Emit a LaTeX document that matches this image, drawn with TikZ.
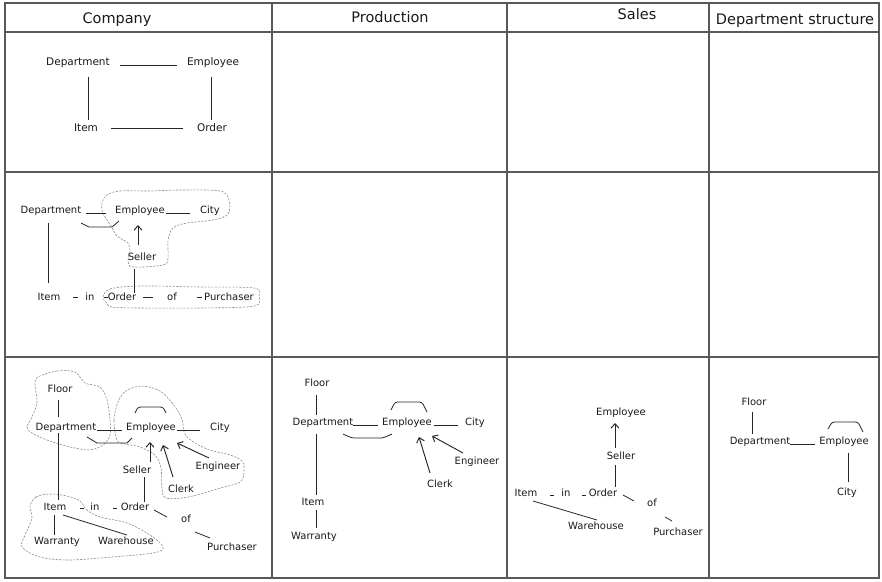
\documentclass[tikz,border=0pt]{standalone}
\usepackage{fontspec}
\setmainfont{DejaVu Sans}
\usetikzlibrary{arrows.meta}
\begin{document}
\begin{tikzpicture}[x=1pt,y=-1pt,
  grid/.style={draw=black!65,line width=1.2pt},
  hdr/.style={font=\fontsize{14.5}{16}\selectfont,inner sep=0pt,text=black!90},
  lbl/.style={font=\fontsize{10}{12}\selectfont,inner sep=0pt,text height=7pt,text depth=2pt,text=black!90},
  lblA/.style={lbl,font=\fontsize{10.5}{12}\selectfont},
  link/.style={draw=black!85,line width=0.8pt},
  isa/.style={link,line width=0.95pt,-{Straight Barb[length=4.5pt,width=8pt]}},
  rel/.style={link,rounded corners=2.5pt},
  zone/.style={draw=black!45,line width=0.6pt,dash pattern=on 2.2pt off 1.3pt}
]
\useasboundingbox (0,0) rectangle (882,581);

% table frame
\draw[grid] (5,3) rectangle (879,578);
\foreach \x in {272,507,709} \draw[grid] (\x,3) -- (\x,578);
\foreach \y in {32,172,357} \draw[grid] (5,\y) -- (879,\y);

% column headings
\node[hdr] (hC) at (117,20) {Company};
\node[hdr] (hP) at (390,17) {Production};
\node[hdr] (hS) at (637,14) {Sales};
\node[hdr] (hD) at (795,21) {Department structure};

% ---------- first row: company ----------
\node[lblA] (a1dep)  at (78,63)   {Department};
\node[lblA] (a1emp)  at (213,63)  {Employee};
\node[lblA] (a1item) at (86,129)  {Item};
\node[lblA] (a1ord)  at (212,129) {Order};
\draw[link] ([shift={(42,2)}]a1dep.center) -- ([shift={(-36,2)}]a1emp.center);
\draw[link] ([shift={(10,14)}]a1dep.center) -- ([shift={(2,-9)}]a1item.center);
\draw[link] ([shift={(-2,14)}]a1emp.center) -- ([shift={(-1,-9)}]a1ord.center);
\draw[link] ([shift={(25,-1)}]a1item.center) -- ([shift={(-29,-1)}]a1ord.center);

% ---------- second row: company ----------
\draw[zone] plot[smooth cycle,tension=0.55] coordinates {
  (107,195) (120,191) (150,191) (180,190) (220,191) (229,200) (228,214)
  (213,220) (187,223) (173,228) (168,240) (168,258) (163,265) (133,267)
  (128,261) (130,251) (128,243) (117,236) (111,226) (103,213) (102,203)};
\draw[zone] plot[smooth cycle,tension=0.55] coordinates {
  (103,297) (110,289) (140,286) (200,287) (254,288) (259,296) (254,306)
  (200,308) (140,308) (112,307) (106,302)};

\node[lbl] (b2dep)  at (51,211)  {Department};
\node[lbl] (b2emp)  at (140,211) {Employee};
\node[lbl] (b2city) at (210,211) {City};
\node[lbl] (b2sel)  at (142,258) {Seller};
\node[lbl] (b2item) at (49,298)  {Item};
\node[lbl] (b2in)   at (90,298)  {in};
\node[lbl] (b2ord)  at (122,298) {Order};
\node[lbl] (b2of)   at (172,298) {of};
\node[lbl] (b2pur)  at (229,298) {Purchaser};
\draw[link] ([shift={(35,2)}]b2dep.center) -- ([shift={(-34,2)}]b2emp.center);
\draw[link] ([shift={(26,2)}]b2emp.center) -- ([shift={(-20,2)}]b2city.center);
\draw[link] ([shift={(30,12)}]b2dep.center) -- ++(8,4) -- ++(23,0) -- ([shift={(-21,10)}]b2emp.center);
\draw[link] ([shift={(-3,12)}]b2dep.center) -- ([shift={(-1,-15)}]b2item.center);
\draw[isa] ([shift={(-4,-13)}]b2sel.center) -- ([shift={(-2,14)}]b2emp.center);
\draw[link] ([shift={(-8,11)}]b2sel.center) -- ([shift={(12,-5)}]b2ord.center);
\draw[link] ([shift={(24,-1)}]b2item.center) -- ([shift={(-12,-1)}]b2in.center);
\draw[link] ([shift={(14,-1)}]b2in.center) -- ([shift={(-14,-1)}]b2ord.center);
\draw[link] ([shift={(21,-1)}]b2ord.center) -- ([shift={(-19,-1)}]b2of.center);
\draw[link] ([shift={(25,-1)}]b2of.center) -- ([shift={(-27,-1)}]b2pur.center);

% ---------- third row: company ----------
\draw[zone] plot[smooth cycle,tension=0.55] coordinates {
  (38,377) (57,371) (75,372) (85,383) (100,387) (107,400) (110,420)
  (110,435) (103,445) (90,450) (75,448) (63,445) (47,440) (32,433)
  (27,427) (32,417) (37,402) (35,385)};
\draw[zone] plot[smooth cycle,tension=0.55] coordinates {
  (117,440) (114,420) (118,402) (126,391) (142,386) (160,391) (173,404)
  (182,419) (186,436) (207,449) (230,455) (242,461) (244,471) (240,482)
  (217,489) (188,497) (166,498) (162,488) (161,468) (155,455) (140,447)
  (125,444)};
\draw[zone] plot[smooth cycle,tension=0.55] coordinates {
  (30,506) (36,497) (50,494) (67,496) (80,501) (87,510) (100,517)
  (127,523) (150,535) (163,547) (153,553) (100,558) (67,560) (40,557)
  (22,547) (26,533) (32,518)};

\node[lbl] (c3floor) at (60,390)  {Floor};
\node[lbl] (c3dep)   at (66,428)  {Department};
\node[lbl] (c3emp)   at (151,428) {Employee};
\node[lbl] (c3city)  at (220,428) {City};
\node[lbl] (c3sel)   at (137,471) {Seller};
\node[lbl] (c3eng)   at (218,467) {Engineer};
\node[lbl] (c3clerk) at (181,490) {Clerk};
\node[lbl] (c3item)  at (55,508)  {Item};
\node[lbl] (c3in)    at (95,508)  {in};
\node[lbl] (c3ord)   at (135,508) {Order};
\node[lbl] (c3of)    at (186,520) {of};
\node[lbl] (c3pur)   at (232,548) {Purchaser};
\node[lbl] (c3war)   at (57,542)  {Warranty};
\node[lbl] (c3wh)    at (126,542) {Warehouse};
\draw[link] ([shift={(-2,10)}]c3floor.center) -- ([shift={(-8,-11)}]c3dep.center);
\draw[link] ([shift={(31,2)}]c3dep.center) -- ([shift={(-29,2)}]c3emp.center);
\draw[link] ([shift={(21,9)}]c3dep.center) -- ++(10,6) -- ++(30,0) -- ([shift={(-19,10)}]c3emp.center);
\draw[rel] ([shift={(-16,-15)}]c3emp.center) -- ++(3,-6) -- ++(25,0) -- ([shift={(15,-15)}]c3emp.center);
\draw[link] ([shift={(26,2)}]c3emp.center) -- ([shift={(-20,2)}]c3city.center);
\draw[isa] ([shift={(13,-9)}]c3sel.center) -- ([shift={(-1,14)}]c3emp.center);
\draw[isa] ([shift={(-8,-13)}]c3clerk.center) -- ([shift={(12,17)}]c3emp.center);
\draw[isa] ([shift={(-9,-9)}]c3eng.center) -- ([shift={(26,15)}]c3emp.center);
\draw[link] ([shift={(7,6)}]c3sel.center) -- ([shift={(9,-6)}]c3ord.center);
\draw[link] ([shift={(-8,5)}]c3dep.center) -- ([shift={(3,-8)}]c3item.center);
\draw[link] ([shift={(25,0)}]c3item.center) -- ([shift={(-11,0)}]c3in.center);
\draw[link] ([shift={(18,0)}]c3in.center) -- ([shift={(-18,0)}]c3ord.center);
\draw[link] ([shift={(19,2)}]c3ord.center) -- ([shift={(-19,-3)}]c3of.center);
\draw[link] ([shift={(9,12)}]c3of.center) -- ([shift={(-22,-10)}]c3pur.center);
\draw[link] ([shift={(-1,7)}]c3item.center) -- ([shift={(-3,-7)}]c3war.center);
\draw[link] ([shift={(8,7)}]c3item.center) -- ([shift={(1,-7)}]c3wh.center);

% ---------- third row: production ----------
\node[lbl] (p3floor) at (317,384) {Floor};
\node[lbl] (p3dep)   at (323,423) {Department};
\node[lbl] (p3emp)   at (407,423) {Employee};
\node[lbl] (p3city)  at (475,423) {City};
\node[lbl] (p3item)  at (313,503) {Item};
\node[lbl] (p3war)   at (314,537) {Warranty};
\node[lbl] (p3eng)   at (477,462) {Engineer};
\node[lbl] (p3clerk) at (440,485) {Clerk};
\draw[link] ([shift={(-1,11)}]p3floor.center) -- ([shift={(-7,-8)}]p3dep.center);
\draw[link] ([shift={(30,2)}]p3dep.center) -- ([shift={(-29,2)}]p3emp.center);
\draw[rel] ([shift={(-16,-13)}]p3emp.center) -- ++(4,-8) -- ++(27,0) -- ([shift={(20,-11)}]p3emp.center);
\draw[link] ([shift={(27,2)}]p3emp.center) -- ([shift={(-17,2)}]p3city.center);
\draw[rel] ([shift={(20,11)}]p3dep.center) -- ++(9,4) -- ++(31,0) -- ([shift={(-15,11)}]p3emp.center);
\draw[link] ([shift={(-7,11)}]p3dep.center) -- ([shift={(3,-8)}]p3item.center);
\draw[link] ([shift={(3,7)}]p3item.center) -- ([shift={(2,-9)}]p3war.center);
\draw[isa] ([shift={(-10,-12)}]p3clerk.center) -- ([shift={(12,14)}]p3emp.center);
\draw[isa] ([shift={(-14,-9)}]p3eng.center) -- ([shift={(25,13)}]p3emp.center);

% ---------- third row: sales ----------
\node[lbl] (s3emp)  at (621,413) {Employee};
\node[lbl] (s3sel)  at (621,457) {Seller};
\node[lbl] (s3item) at (526,494) {Item};
\node[lbl] (s3in)   at (566,494) {in};
\node[lbl] (s3ord)  at (603,494) {Order};
\node[lbl] (s3of)   at (652,504) {of};
\node[lbl] (s3pur)  at (678,533) {Purchaser};
\node[lbl] (s3wh)   at (596,527) {Warehouse};
\draw[isa] ([shift={(-6,-9)}]s3sel.center) -- ([shift={(-6,10)}]s3emp.center);
\draw[link] ([shift={(-6,8)}]s3sel.center) -- ([shift={(12,-7)}]s3ord.center);
\draw[link] ([shift={(24,1)}]s3item.center) -- ([shift={(-12,1)}]s3in.center);
\draw[link] ([shift={(16,1)}]s3in.center) -- ([shift={(-17,1)}]s3ord.center);
\draw[link] ([shift={(20,1)}]s3ord.center) -- ([shift={(-18,-3)}]s3of.center);
\draw[link] ([shift={(13,13)}]s3of.center) -- ([shift={(-6,-12)}]s3pur.center);
\draw[link] ([shift={(7,7)}]s3item.center) -- ([shift={(1,-7)}]s3wh.center);

% ---------- third row: department structure ----------
\node[lbl] (d3floor) at (754,403) {Floor};
\node[lbl] (d3dep)   at (760,442) {Department};
\node[lbl] (d3emp)   at (844,442) {Employee};
\node[lbl] (d3city)  at (847,493) {City};
\draw[link] ([shift={(-2,9)}]d3floor.center) -- ([shift={(-8,-8)}]d3dep.center);
\draw[link] ([shift={(30,2)}]d3dep.center) -- ([shift={(-29,2)}]d3emp.center);
\draw[rel] ([shift={(-16,-13)}]d3emp.center) -- ++(4,-7) -- ++(26,0) -- ([shift={(19,-10)}]d3emp.center);
\draw[link] ([shift={(4,11)}]d3emp.center) -- ([shift={(1,-11)}]d3city.center);

\end{tikzpicture}
\end{document}
